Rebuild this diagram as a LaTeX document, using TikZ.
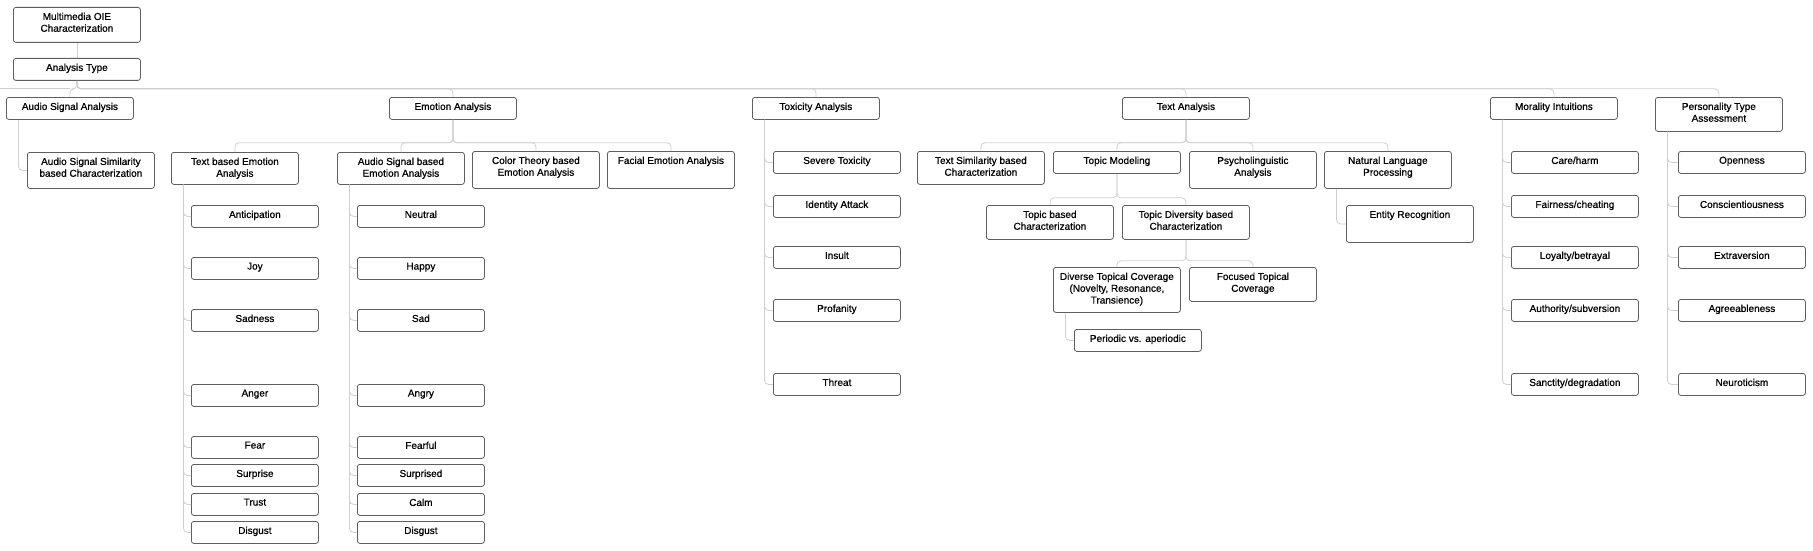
\documentclass[tikz,border=0pt]{standalone}
\usepackage{fontspec}
\setmainfont{Liberation Sans}
\newfontfamily\lblfont{Liberation Sans}[FakeBold=0.7]
\usetikzlibrary{calc}
\definecolor{boxc}{HTML}{5E5E5E}
\definecolor{linec}{HTML}{CFCFCF}
\tikzset{
  box/.style={draw=boxc, line width=0.8pt, rounded corners=2.5pt, minimum width=127pt,
    inner sep=0pt, anchor=north west, fill=white},
  lbl/.style={font=\lblfont\fontsize{10}{11.8}\selectfont, align=center, text=black,
    inner sep=0pt, anchor=north, yshift=-5.5pt},
  conn/.style={draw=linec, line width=0.8pt, rounded corners=4pt},
}
\newcommand\bx[5]{\node[box, minimum height=#4pt, label={[lbl]north:{#5}}] (#1) at (#2,#3) {};}
\newcommand\tree[3]{\draw[conn] (#1.south) -- ++(0,#3) -| (#2.north);}
\newcommand\side[2]{\draw[conn] ($(#1.south west)+(12.5,0)$) |- (#2.west);}
\begin{document}
\begin{tikzpicture}[x=1pt,y=-1pt]
\useasboundingbox (0,0) rectangle (1813,551);
% root
\bx{mm}{13}{7}{35}{Multimedia OIE\\Characterization}
\bx{at}{13}{58}{22}{Analysis Type}
\bx{asa}{6}{97}{22}{Audio Signal Analysis}
\bx{emo}{389}{97}{22}{Emotion Analysis}
\bx{tox}{752}{97}{22}{Toxicity Analysis}
\bx{txt}{1122}{97}{22}{Text Analysis}
\bx{mor}{1490}{97}{22}{Morality Intuitions}
\bx{pta}{1655}{97}{34}{Personality Type\\Assessment}
% audio
\bx{ass}{27}{152}{36}{Audio Signal Similarity\\based Characterization}
% emotion
\bx{tbe}{171}{152}{32}{Text based Emotion\\Analysis}
\bx{abe}{337}{152}{32}{Audio Signal based\\Emotion Analysis}
\bx{cte}{472}{151}{37}{Color Theory based\\Emotion Analysis}
\bx{fea}{607}{151}{37}{Facial Emotion Analysis}
\bx{t1}{191}{205}{22}{Anticipation}
\bx{t2}{191}{257}{22}{Joy}
\bx{t3}{191}{309}{22}{Sadness}
\bx{t4}{191}{384}{22}{Anger}
\bx{t5}{191}{436}{22}{Fear}
\bx{t6}{191}{464}{22}{Surprise}
\bx{t7}{191}{493}{22}{Trust}
\bx{t8}{191}{521}{22}{Disgust}
\bx{a1}{357}{205}{22}{Neutral}
\bx{a2}{357}{257}{22}{Happy}
\bx{a3}{357}{309}{22}{Sad}
\bx{a4}{357}{384}{22}{Angry}
\bx{a5}{357}{436}{22}{Fearful}
\bx{a6}{357}{464}{22}{Surprised}
\bx{a7}{357}{493}{22}{Calm}
\bx{a8}{357}{521}{22}{Disgust}
% toxicity
\bx{x1}{773}{151}{22}{Severe Toxicity}
\bx{x2}{773}{195}{22}{Identity Attack}
\bx{x3}{773}{246}{22}{Insult}
\bx{x4}{773}{299}{22}{Profanity}
\bx{x5}{773}{373}{22}{Threat}
% text
\bx{tsc}{917}{151}{33}{Text Similarity based\\Characterization}
\bx{tm}{1053}{151}{22}{Topic Modeling}
\bx{psy}{1189}{151}{37}{Psycholinguistic\\Analysis}
\bx{nlp}{1324}{151}{37}{Natural Language\\Processing}
\bx{tbc}{986}{205}{34}{Topic based\\Characterization}
\bx{tdc}{1122}{205}{34}{Topic Diversity based\\Characterization}
\bx{dtc}{1053}{267}{45}{Diverse Topical Coverage\\(Novelty, Resonance,\\Transience)}
\bx{ftc}{1189}{267}{34}{Focused Topical\\Coverage}
\bx{pva}{1074}{329}{22}{Periodic vs. aperiodic}
\bx{ent}{1346}{205}{37}{Entity Recognition}
% morality
\bx{m1}{1511}{151}{22}{Care/harm}
\bx{m2}{1511}{195}{22}{Fairness/cheating}
\bx{m3}{1511}{246}{22}{Loyalty/betrayal}
\bx{m4}{1511}{299}{22}{Authority/subversion}
\bx{m5}{1511}{373}{22}{Sanctity/degradation}
% personality
\bx{p1}{1678}{151}{22}{Openness}
\bx{p2}{1678}{195}{22}{Conscientiousness}
\bx{p3}{1678}{246}{22}{Extraversion}
\bx{p4}{1678}{299}{22}{Agreeableness}
\bx{p5}{1678}{373}{22}{Neuroticism}
% connectors
\draw[conn] (mm.south) -- (at.north);
\coordinate (lft) at (0,88);
\draw[conn] (lft) -- (asa.north |- lft);
\foreach \c in {asa,emo,tox,txt,mor,pta} {\tree{at}{\c}{8}}
\foreach \c in {tbe,abe,cte,fea} {\tree{emo}{\c}{23}}
\foreach \c in {tsc,tm,psy,nlp} {\tree{txt}{\c}{23}}
\foreach \c in {tbc,tdc} {\tree{tm}{\c}{24}}
\foreach \c in {dtc,ftc} {\tree{tdc}{\c}{21}}
\side{asa}{ass}
\foreach \c in {t1,t2,t3,t4,t5,t6,t7,t8} {\side{tbe}{\c}}
\foreach \c in {a1,a2,a3,a4,a5,a6,a7,a8} {\side{abe}{\c}}
\foreach \c in {x1,x2,x3,x4,x5} {\side{tox}{\c}}
\foreach \c in {m1,m2,m3,m4,m5} {\side{mor}{\c}}
\foreach \c in {p1,p2,p3,p4,p5} {\side{pta}{\c}}
\side{nlp}{ent}
\side{dtc}{pva}
\end{tikzpicture}
\end{document}
